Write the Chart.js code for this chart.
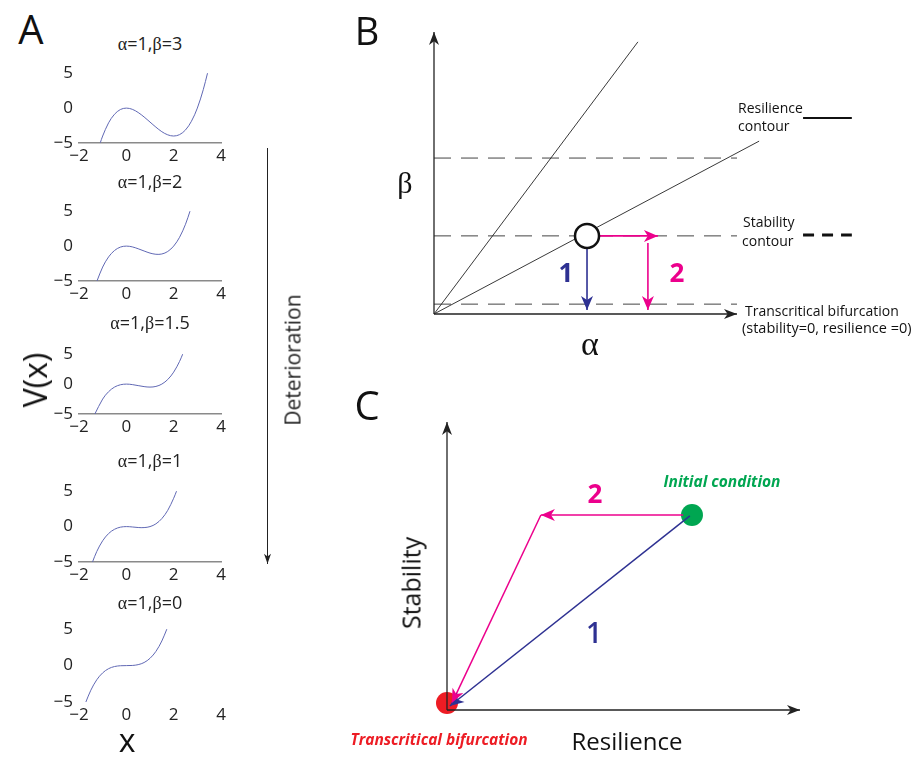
<!DOCTYPE html>
<html><head><meta charset="utf-8">
<script src="https://cdn.jsdelivr.net/npm/chart.js@4.4.0/dist/chart.umd.min.js"></script>
<style>
body{margin:0;background:#fff;width:915px;height:758px;position:relative;overflow:hidden;font-family:"Open Sans",sans-serif;color:#111;}
canvas{position:absolute;}
.t{position:absolute;white-space:nowrap;line-height:1;transform:translate(-50%,-50%);}
.l{position:absolute;white-space:nowrap;line-height:1;transform:translate(0,-50%);}
.g{font-family:"Liberation Serif",serif;}
</style></head><body>
<script>
// ---------- Panel A: potential curves V(x) ----------
const panelAAlpha = [1, 1, 1, 1, 1];
const panelABeta = ["3", "2", "1.5", "1", "0"];
const xTicksA = [-2, 0, 2, 4];
const vTicksA = [-5, 0, 5];
const xBeta3 = [-1.1, -1, -0.75, -0.5, -0.25, 0, 0.25, 0.5, 0.75, 1, 1.25, 1.5, 1.75, 2, 2.25, 2.5, 2.75, 3, 3.25, 3.43];
const vBeta3 = [-4.96, -4, -2.11, -0.88, -0.2, 0, -0.17, -0.63, -1.27, -2, -2.73, -3.38, -3.83, -4, -3.8, -3.13, -1.89, 0, 2.64, 5];
const xBeta2 = [-1.24, -1, -0.75, -0.5, -0.25, 0, 0.25, 0.5, 0.75, 1, 1.25, 1.5, 1.75, 2, 2.25, 2.5, 2.69];
const vBeta2 = [-5, -3, -1.55, -0.63, -0.14, 0, -0.11, -0.38, -0.7, -1, -1.17, -1.13, -0.77, 0, 1.27, 3.13, 5];
const xBeta15 = [-1.33, -1, -0.75, -0.5, -0.25, 0, 0.25, 0.5, 0.75, 1, 1.25, 1.5, 1.75, 2, 2.25, 2.38];
const vBeta15 = [-5, -2.5, -1.27, -0.5, -0.11, 0, -0.08, -0.25, -0.42, -0.5, -0.39, 0, 0.77, 2, 3.8, 5];
const xBeta1 = [-1.43, -1.25, -1, -0.75, -0.5, -0.25, 0, 0.25, 0.5, 0.75, 1, 1.25, 1.5, 1.75, 2, 2.12];
const vBeta1 = [-5, -3.52, -2, -0.98, -0.38, -0.08, 0, -0.05, -0.13, -0.14, 0, 0.39, 1.13, 2.3, 4, 5];
const xBeta0 = [-1.71, -1.5, -1.25, -1, -0.75, -0.5, -0.25, 0, 0.25, 0.5, 0.75, 1, 1.25, 1.5, 1.71];
const vBeta0 = [-5, -3.38, -1.95, -1, -0.42, -0.13, -0.02, 0, 0.02, 0.13, 0.42, 1, 1.95, 3.38, 5];

// ---------- Panel B: alpha-beta plane ----------
const bAlphaAxis = [[0, 0], [10, 0]];
const bBetaAxis = [[0, 0], [0, 10]];
const bSteepContour = [[0, 0], [6.73, 9.65]];
const bShallowContour = [[0, 0], [10.73, 6.13]];
const bStabilityLevels = [5.53, 2.77, 0.35];
const bDashExtent = [0, 10];
const bState = [5.05, 2.77];
const bPath1 = [[5.05, 2.34], [5.05, 0.14]];
const bPath2a = [[5.41, 2.77], [7.39, 2.77]];
const bPath2b = [[7.06, 2.52], [7.06, 0.14]];
const bKeySolid = [[12.18, 6.95], [13.79, 6.95]];
const bKeyDashed = [[12.18, 2.8], [13.79, 2.8]];

// ---------- Panel C: resilience-stability plane ----------
const cResAxis = [[0, 0], [10, 0]];
const cStabAxis = [[0, 0], [0, 10]];
const cInitial = [6.94, 6.77];
const cBifurcation = [0, 0.24];
const cPath1 = [[6.88, 6.74], [0.08, 0.14]];
const cPath2a = [[6.69, 6.77], [2.66, 6.77]];
const cPath2b = [[2.66, 6.77], [0.14, 0.24]];

const NAVY = "#2e3192", MAGENTA = "#ec008c", GREEN = "#00a651", RED = "#ed1c24";

function mkCanvas(left, top, w, h) {
  const c = document.createElement('canvas');
  c.width = w; c.height = h;
  c.style.left = left + 'px'; c.style.top = top + 'px';
  c.style.width = w + 'px'; c.style.height = h + 'px';
  document.body.appendChild(c);
  return c;
}
function txt(s, x, y, css, cls, html) {
  const d = document.createElement('div');
  d.className = cls || 't';
  if (html) d.innerHTML = s; else d.textContent = s;
  d.style.left = x + 'px'; d.style.top = y + 'px';
  d.style.cssText += css || '';
  document.body.appendChild(d);
  return d;
}
const pts = a => a.map(p => ({x: p[0], y: p[1]}));
function seg(points, color, width, extra) {
  return Object.assign({data: pts(points), showLine: true, borderColor: color, backgroundColor: color,
    borderWidth: width, pointRadius: 0, clip: false, tension: 0}, extra || {});
}

const arrowPlugin = {
  id: 'arrowheads',
  afterDatasetsDraw(chart) {
    const ctx = chart.ctx;
    chart.data.datasets.forEach((ds, i) => {
      if (!ds.arrowHead) return;
      const el = chart.getDatasetMeta(i).data;
      const a = el[el.length - 2], b = el[el.length - 1];
      const ang = Math.atan2(b.y - a.y, b.x - a.x);
      const {len, half} = ds.arrowHead;
      ctx.save();
      ctx.translate(b.x, b.y); ctx.rotate(ang);
      ctx.beginPath();
      ctx.moveTo(0, 0); ctx.lineTo(-len, -half); ctx.lineTo(-len * 0.72, 0); ctx.lineTo(-len, half);
      ctx.closePath();
      ctx.fillStyle = ds.borderColor; ctx.fill();
      ctx.restore();
    });
  }
};

// ---------- draw Panel A ----------
const aBoxes = [[67, 143, true], [205, 281, true], [348, 414, true], [485, 562, true], [623, 702, false]];
const aTitleY = [43, 181, 322, 460, 602];
const aX = [xBeta3, xBeta2, xBeta15, xBeta1, xBeta0];
const aV = [vBeta3, vBeta2, vBeta15, vBeta1, vBeta0];
const minus = v => v < 0 ? '\u2212' + Math.abs(v) : String(v);
aBoxes.forEach((box, k) => {
  const [T, B, border] = box;
  const h = (B - T) + 10 + 28;
  const cv = mkCanvas(0, T - 10, 240, h);
  new Chart(cv, {
    type: 'scatter',
    data: {datasets: [{data: aX[k].map((x, i) => ({x, y: aV[k][i]})), showLine: true,
      borderColor: '#6068b4', borderWidth: 1, pointRadius: 0, tension: 0.35, clip: false}]},
    options: {
      responsive: false, animation: false, devicePixelRatio: 1,
      layout: {padding: {left: 0, right: 19, top: 10, bottom: 0}},
      plugins: {legend: {display: false}, tooltip: {enabled: false}},
      scales: {
        x: {type: 'linear', min: -2, max: 4, afterBuildTicks: s => { s.ticks = xTicksA.map(v => ({value: v})); },
          afterFit: s => { s.height = 28; },
          grid: {display: false, drawTicks: false},
          border: {display: border, color: '#8a8a8a', width: 1.5},
          ticks: {padding: 3, color: '#222', font: {family: 'Open Sans', size: 17}, callback: minus, maxRotation: 0, autoSkip: false}},
        y: {type: 'linear', min: -5, max: 5, afterBuildTicks: s => { s.ticks = vTicksA.map(v => ({value: v})); },
          afterFit: s => { s.width = 79; },
          grid: {display: false, drawTicks: false},
          border: {display: false},
          ticks: {padding: 6, color: '#222', font: {family: 'Open Sans', size: 17}, callback: minus, autoSkip: false}}
      }
    }
  });
  txt('<span class="g">α</span>=' + panelAAlpha[k] + ',<span class="g">β</span>=' + panelABeta[k], 150, aTitleY[k],
      'font-size:18px;color:#222;', 't', true);
});
txt('A', 31, 29, 'font-size:40px;');
txt('V(x)', 35, 380, 'font-size:32px;transform:translate(-50%,-50%) rotate(-90deg);');
txt('x', 127, 740, 'font-size:32px;');
// Deterioration arrow (drawn via a tiny chart)
{
  const cv = mkCanvas(255, 140, 24, 432);
  new Chart(cv, {
    type: 'scatter',
    data: {datasets: [seg([[0, 10], [0, 0.1]], '#222', 1, {arrowHead: {len: 10, half: 3.5}})]},
    options: {responsive: false, animation: false, devicePixelRatio: 1,
      layout: {padding: {left: 12, right: 11, top: 8, bottom: 4}},
      plugins: {legend: {display: false}, tooltip: {enabled: false}},
      scales: {x: {display: false, min: -1, max: 1}, y: {display: false, min: 0, max: 10}}},
    plugins: [arrowPlugin]
  });
}
txt('Deterioration', 293, 360, 'font-size:21px;color:#222;transform:translate(-50%,-50%) rotate(-90deg);');

// ---------- draw Panel B ----------
{
  const cv = mkCanvas(340, 0, 575, 370);
  const dashed = bStabilityLevels.map(y => seg([[bDashExtent[0], y], [bDashExtent[1], y]], '#444', 1, {borderDash: [17, 10]}));
  new Chart(cv, {
    type: 'scatter',
    data: {datasets: [
      {data: pts([bState]), pointRadius: 12, pointBorderWidth: 2.5, pointBorderColor: '#111', pointBackgroundColor: '#fff', clip: false},
      seg(bPath1, NAVY, 1.6, {arrowHead: {len: 14, half: 6}}),
      seg(bPath2a, MAGENTA, 1.6, {arrowHead: {len: 14, half: 6}}),
      seg(bPath2b, MAGENTA, 1.6, {arrowHead: {len: 14, half: 6}}),
      seg(bAlphaAxis, '#222', 1.3, {arrowHead: {len: 13, half: 5}}),
      seg(bBetaAxis, '#222', 1.3, {arrowHead: {len: 13, half: 5}}),
      seg(bSteepContour, '#222', 0.9),
      seg(bShallowContour, '#222', 0.9),
      ...dashed,
      seg(bKeySolid, '#111', 2.2),
      seg(bKeyDashed, '#111', 3, {borderDash: [11, 8]})
    ]},
    options: {responsive: false, animation: false, devicePixelRatio: 1,
      layout: {padding: {left: 94, right: 178, top: 32, bottom: 56}},
      plugins: {legend: {display: false}, tooltip: {enabled: false}},
      scales: {x: {display: false, min: 0, max: 10}, y: {display: false, min: 0, max: 10}}},
    plugins: [arrowPlugin]
  });
}
txt('B', 367, 30, 'font-size:38px;');
txt('β', 405, 183, 'font-size:30px;font-family:"Liberation Serif",serif;');
txt('α', 590, 344, 'font-size:34px;font-family:"Liberation Serif",serif;');
txt('1', 566, 272, 'font-size:26px;font-weight:700;color:' + NAVY + ';');
txt('2', 677, 272, 'font-size:26px;font-weight:700;color:' + MAGENTA + ';');
txt('Resilience', 738, 108, 'font-size:14px;', 'l');
txt('contour', 738, 126, 'font-size:14px;', 'l');
txt('Stability', 743, 222, 'font-size:14px;', 'l');
txt('contour', 742, 241, 'font-size:14px;', 'l');
txt('Transcritical bifurcation', 745, 311, 'font-size:14px;', 'l');
txt('(stability=0, resilience =0)', 742, 328, 'font-size:14.5px;', 'l');

// ---------- draw Panel C ----------
{
  const cv = mkCanvas(340, 370, 575, 388);
  new Chart(cv, {
    type: 'scatter',
    data: {datasets: [
      seg(cPath1, NAVY, 1.5, {arrowHead: {len: 14, half: 6}}),
      seg(cPath2a, MAGENTA, 1.5, {arrowHead: {len: 14, half: 6}}),
      seg(cPath2b, MAGENTA, 1.5, {arrowHead: {len: 14, half: 6}}),
      seg(cResAxis, '#222', 1.3, {arrowHead: {len: 13, half: 5}}),
      seg(cStabAxis, '#222', 1.3, {arrowHead: {len: 13, half: 5}}),
      {data: pts([cInitial]), pointRadius: 11, pointBorderWidth: 0, pointBackgroundColor: GREEN, clip: false},
      {data: pts([cBifurcation]), pointRadius: 11, pointBorderWidth: 0, pointBackgroundColor: RED, clip: false}
    ]},
    options: {responsive: false, animation: false, devicePixelRatio: 1,
      layout: {padding: {left: 107, right: 115, top: 52, bottom: 48}},
      plugins: {legend: {display: false}, tooltip: {enabled: false}},
      scales: {x: {display: false, min: 0, max: 10}, y: {display: false, min: 0, max: 10}}},
    plugins: [arrowPlugin]
  });
}
txt('C', 367, 405, 'font-size:40px;');
txt('Initial condition', 722, 482, 'font-size:15.5px;font-weight:700;font-style:italic;color:' + GREEN + ';');
txt('Transcritical bifurcation', 439, 740, 'font-size:15.5px;font-weight:700;font-style:italic;color:' + RED + ';');
txt('Resilience', 627, 741, 'font-size:24px;');
txt('Stability', 411, 583, 'font-size:25px;transform:translate(-50%,-50%) rotate(-90deg);');
txt('2', 595, 493, 'font-size:26px;font-weight:700;color:' + MAGENTA + ';');
txt('1', 594, 632, 'font-size:28px;font-weight:600;color:' + NAVY + ';');
</script>
</body></html>
